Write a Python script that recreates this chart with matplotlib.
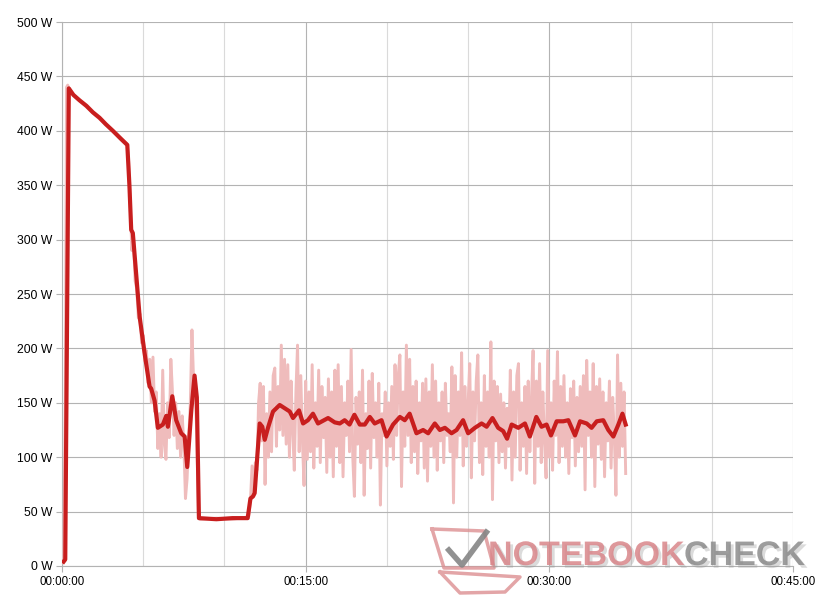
import matplotlib
matplotlib.use("Agg")
import matplotlib.pyplot as plt
from matplotlib.ticker import MultipleLocator, FuncFormatter
import matplotlib.patheffects as pe
import numpy as np

# smoothed power draw (minutes, watts)
smooth_t = [0.1, 0.2, 0.42, 0.7, 1.08, 1.5, 1.9, 2.31, 2.7, 3.13, 3.6, 4.02,
            4.15, 4.26, 4.36, 4.78, 5.08, 5.39, 5.49, 5.70, 5.90, 6.21, 6.42,
            6.52, 6.79, 7.03, 7.34, 7.55, 7.71, 7.96, 8.16, 8.30, 8.43, 9.5,
            10.5, 11.43, 11.6, 11.76, 11.86, 11.96, 12.17, 12.33, 12.48, 12.68,
            12.99, 13.4, 13.71, 14.02, 14.22, 14.59, 14.84, 15.14, 15.45, 15.76,
            16.38, 16.79, 17.1, 17.4, 17.7, 18.0, 18.33, 18.64, 18.95, 19.25,
            19.67, 19.98, 20.38, 20.8, 21.1, 21.4, 21.82, 22.23, 22.54, 22.95,
            23.26, 23.57, 23.98, 24.29, 24.69, 25.0, 25.42, 25.83, 26.14, 26.5,
            26.85, 27.16, 27.4, 27.68, 28.09, 28.5, 28.8, 29.2, 29.52, 29.83,
            30.1, 30.45, 30.86, 31.17, 31.58, 31.89, 32.3, 32.6, 32.92, 33.32,
            33.63, 33.94, 34.25, 34.5, 34.7]
smooth_w = [4, 6, 439, 433, 428, 423, 417, 412, 406, 400, 393, 387,
            350, 309, 306, 229, 196, 165, 163, 152, 127, 130, 138,
            128, 156, 134, 122, 119, 91, 143, 175, 155, 44, 43,
            44, 44, 62, 64, 67, 88, 131, 128, 116, 127,
            142, 148, 145, 142, 136, 143, 131, 134, 140, 131,
            136, 132, 131, 134, 130, 139, 130, 130, 137, 131,
            134, 119, 130, 137, 134, 140, 122, 125, 122, 131,
            125, 127, 122, 125, 134, 122, 127, 131, 128, 136,
            127, 124, 117, 130, 127, 131, 119, 137, 128, 130,
            120, 133, 133, 134, 120, 133, 131, 127, 133, 134,
            125, 119, 130, 140, 130]

# raw samples
raw_head_t = [0.0, 0.1, 0.2, 0.28, 0.35, 0.5, 1.0, 2.0, 3.0, 3.6, 4.0]
raw_head_w = [3, 4, 150, 440, 442, 436, 429, 415, 402, 394, 388]

# 4.1 .. 8.4 min, every 6 s
raw_drop_w = [372, 330, 290, 302, 262, 255, 228, 232, 205, 212,
              188, 198, 168, 190, 150, 192, 142, 160, 108, 140,
              100, 180, 112, 98, 150, 118, 190, 160, 120, 150,
              108, 142, 100, 138, 112, 62, 80, 118, 150, 217,
              170, 160, 120, 44]

raw_idle_t = [8.5, 9.5, 10.5, 11.4]
raw_idle_w = [43, 44, 43, 45]

# 11.5 .. 34.7 min, every 6 s
raw_load_w = [46, 60, 92, 66, 95, 88, 150, 168, 115, 165,
              75, 140, 100, 160, 105, 175, 182, 110, 165, 125,
              203, 120, 190, 112, 185, 100, 170, 125, 88, 160,
              203, 105, 175, 115, 74, 170, 98, 160, 105, 185,
              90, 150, 110, 180, 95, 165, 118, 155, 86, 172,
              100, 160, 82, 180,
              110, 185, 95, 165, 82, 150, 120, 170, 105, 199,
              100, 64, 155, 112, 160, 95, 180, 65, 140, 108,
              170, 90, 177, 118, 150, 100, 168, 56, 140, 120,
              160, 92, 150, 110, 165, 98, 185, 120, 175, 194,
              73, 160, 110, 203, 120, 190, 95, 165, 105, 170,
              85, 150, 115, 168, 90, 172, 78, 160, 110, 185,
              100,
              170, 88, 150, 115, 160, 95, 168, 120, 140, 105,
              183, 58, 175, 100, 160, 120, 196, 92, 165, 110,
              150, 186, 81, 160, 115, 170, 194, 95, 150, 84,
              175, 110, 160, 100, 206, 61, 170, 115, 165, 95,
              158, 105, 150, 90, 145, 110, 180, 79, 160, 100,
              175, 186, 88, 150, 110, 165, 85, 170, 105, 155,
              198, 76, 170, 110, 186, 95, 160, 115, 81, 198,
              100, 150, 88, 170, 120, 197, 95, 165, 110, 175,
              100, 150, 85, 163, 118, 170, 92, 155, 105, 165,
              110, 175, 70, 189, 120, 160, 100, 186, 73, 165,
              112, 172, 98, 160, 82, 150, 115, 170, 90, 155,
              120, 65, 194, 100, 168, 110, 160, 85]

raw_drop_t = list(np.round(4.1 + 0.1 * np.arange(len(raw_drop_w)), 2))
raw_load_t = list(np.round(11.5 + 0.1 * np.arange(len(raw_load_w)), 2))
raw_t = raw_head_t + raw_drop_t + raw_idle_t + raw_load_t
raw_w = raw_head_w + raw_drop_w + raw_idle_w + raw_load_w

W, H = 817, 612
fig = plt.figure(figsize=(W / 100, H / 100), dpi=100)
ax = fig.add_axes([62 / W, 1 - 566 / H, (793 - 62) / W, (566 - 22) / H])

ax.plot(raw_t, raw_w, color="#efbcbc", lw=2.1, zorder=3)
ax.plot(smooth_t, smooth_w, color="#c81e1e", lw=3.0, zorder=4,
        solid_joinstyle="round")

ax.set_xlim(0, 45)
ax.set_ylim(0, 500)
ax.xaxis.set_major_locator(MultipleLocator(15))
ax.xaxis.set_minor_locator(MultipleLocator(5))
ax.yaxis.set_major_locator(MultipleLocator(50))
ax.xaxis.set_major_formatter(FuncFormatter(
    lambda v, p: "00:%02d:00" % int(round(v))))
ax.yaxis.set_major_formatter(FuncFormatter(lambda v, p: "%d W" % v))

ax.grid(which="major", color="#b3b3b3", lw=0.8, zorder=0)
ax.grid(which="minor", axis="x", color="#dadada", lw=0.8, zorder=0)
ax.set_axisbelow(True)
for s in ["top", "right"]:
    ax.spines[s].set_visible(False)
for s in ["left", "bottom"]:
    ax.spines[s].set_color("#b3b3b3")
    ax.spines[s].set_linewidth(0.8)
ax.tick_params(which="major", color="#b3b3b3", length=4, width=0.8,
               labelsize=8.7, labelcolor="black", pad=3)
ax.tick_params(which="minor", length=0)
ax.tick_params(axis="x", labelsize=8.3, pad=3)
for lab in ax.get_xticklabels() + ax.get_yticklabels():
    lab.set_fontfamily("Liberation Sans")

# watermark
ov = fig.add_axes([0, 0, 1, 1], facecolor="none")
ov.set_xlim(0, W)
ov.set_ylim(H, 0)
ov.axis("off")
ov.plot([432, 484, 494, 444, 432], [529, 531, 568, 568, 529],
        color="#dc8f91", lw=2.5, alpha=0.8)
ov.plot([440, 520, 505, 460, 440], [572, 577, 592, 593, 572],
        color="#dc8f91", lw=2.5, alpha=0.8)
ov.plot([447, 462, 488], [548, 565, 530], color="#858585", lw=4,
        alpha=0.9, solid_capstyle="butt")
shadow = [pe.withSimplePatchShadow(offset=(2, -2), shadow_rgbFace="#999999",
                                   alpha=0.35)]
t1 = ov.text(488, 565, "NOTEBOOK", fontsize=24.5, fontweight="bold",
             family="Liberation Sans", color="#d9868a", alpha=0.85,
             va="baseline", ha="left", path_effects=shadow)
fig.canvas.draw()
bb = t1.get_window_extent()
ov.text(bb.x1, 565, "CHECK", fontsize=24.5, fontweight="bold",
        family="Liberation Sans", color="#8c8c8c", alpha=0.85,
        va="baseline", ha="left", path_effects=shadow)

fig.savefig("out.png", dpi=100)
